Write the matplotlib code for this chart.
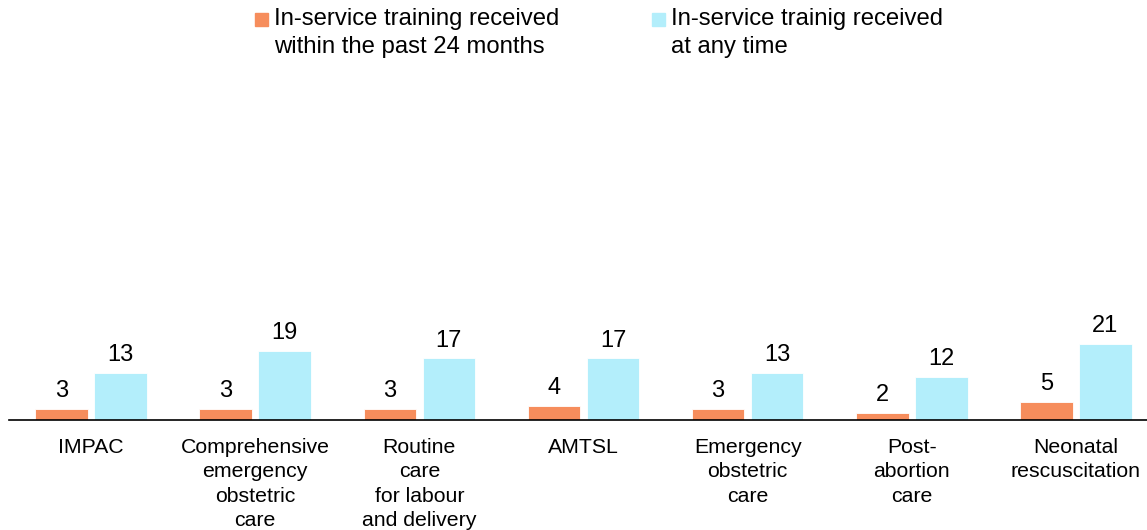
import numpy as np
import matplotlib
matplotlib.use("Agg")
from matplotlib import pyplot as plt
from matplotlib.patches import Rectangle

plt.rcParams['font.family'] = ['Liberation Sans', 'DejaVu Sans']

cats = ['IMPAC', 'Comprehensive\nemergency\nobstetric\ncare', 'Routine\ncare\nfor labour\nand delivery',
        'AMTSL', 'Emergency\nobstetric\ncare', 'Post-\nabortion\ncare', 'Neonatal\nrescuscitation']
past24 = [3, 3, 3, 4, 3, 2, 5]
anytime = [13, 19, 17, 17, 13, 12, 21]
series_names = ['In-service training received\nwithin the past 24 months',
                'In-service trainig received\nat any time']
colors = ['#F68D5C', '#B3EEFB']

fig = plt.figure(figsize=(11.47, 5.30), dpi=100)
# axes runs a little past the right edge, as in the original
ax = fig.add_axes([9/1147, 110/530, 1149/1147, 362/530])

x = np.arange(len(cats))
w = 0.32
off = 0.18
b1 = ax.bar(x - off, past24, w, color=colors[0], edgecolor='white', linewidth=0.6)
b2 = ax.bar(x + off, anytime, w, color=colors[1], edgecolor='white', linewidth=0.6)
for bars, vals in [(b1, past24), (b2, anytime)]:
    for r, v in zip(bars, vals):
        ax.text(r.get_x() + r.get_width()/2, v + 1.9, str(v), ha='center', va='bottom', fontsize=17)

ax.set_xlim(-0.5, 6.5)
ax.set_ylim(0, 100)
ax.set_xticks(x)
ax.set_xticklabels(cats, fontsize=15.3, linespacing=1.36, va='top')
ax.tick_params(axis='x', length=0, pad=13)
ax.set_yticks([])
for s in ['top', 'right', 'left']:
    ax.spines[s].set_visible(False)
ax.spines['bottom'].set_linewidth(1.2)

# legend drawn by hand so the swatch sits beside the first line
for (lx, name, c) in [(255, series_names[0], colors[0]), (652, series_names[1], colors[1])]:
    fig.patches.append(Rectangle((lx/1147, 1 - 26/530), 13/1147, 13/530,
                                 transform=fig.transFigure, color=c))
    fig.text((lx + 19)/1147, 1 - 8/530, name, fontsize=17.2, va='top', ha='left', linespacing=1.36)

fig.savefig('out.png', dpi=100)
